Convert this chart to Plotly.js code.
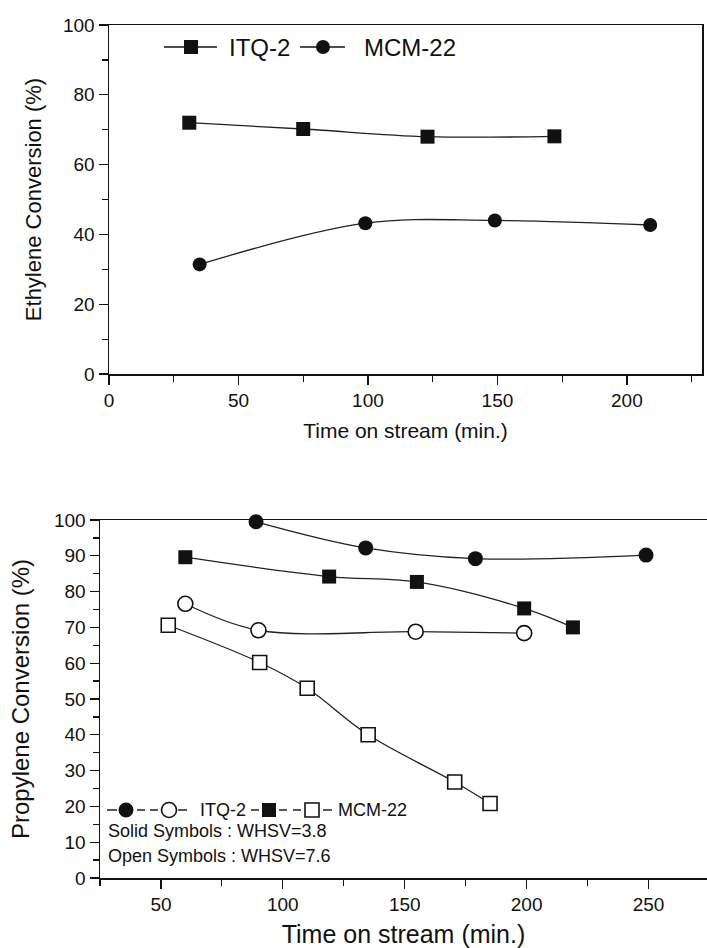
<!DOCTYPE html>
<html>
<head>
<meta charset="utf-8">
<script src="https://cdn.plot.ly/plotly-3.0.1.min.js"></script>
<style>
  html, body { margin: 0; padding: 0; background: #fff; }
  #chart { width: 707px; height: 948px; }
</style>
</head>
<body>
<div id="chart"></div>
<script>
// Ethylene conversion vs time on stream
const ethTimeITQ2 = [31, 75, 123, 172];
const ethConvITQ2 = [72, 70.2, 68, 68.1];
const ethTimeMCM22 = [35, 99, 149, 209];
const ethConvMCM22 = [31.4, 43.2, 44, 42.7];

// Propylene conversion vs time on stream (two WHSV values)
const propTimeITQ2Solid = [89, 134, 179, 249];
const propConvITQ2Solid = [99.5, 92.2, 89.2, 90.2];
const propTimeITQ2Open = [60, 90, 154.5, 199];
const propConvITQ2Open = [76.6, 69.2, 68.8, 68.4];
const propTimeMCM22Solid = [60, 119, 155, 199, 219];
const propConvMCM22Solid = [89.6, 84.2, 82.7, 75.3, 70];
const propTimeMCM22Open = [53, 90.5, 110, 135, 170.5, 185];
const propConvMCM22Open = [70.6, 60.2, 53, 40, 26.8, 20.8];

// Axis tick settings
const ethXTicks = [0, 50, 100, 150, 200];
const ethYTicks = [0, 20, 40, 60, 80, 100];
const propXTicks = [50, 100, 150, 200, 250];
const propYTicks = [0, 10, 20, 30, 40, 50, 60, 70, 80, 90, 100];

const W = 707, H = 948;
const FONT = 'Liberation Sans, Arial, Helvetica, sans-serif';
const INK = '#111111';
const LINE = '#222222';

const px = v => v / W;          // pixel -> paper x
const py = v => 1 - v / H;      // pixel -> paper y

function series(x, y, symbol, filled, size, xa, ya) {
  return {
    x: x, y: y, xaxis: xa, yaxis: ya,
    type: 'scatter', mode: 'lines+markers',
    line: { shape: 'spline', smoothing: 1, color: LINE, width: 1.3 },
    marker: {
      symbol: symbol, size: size,
      color: filled ? INK : '#ffffff',
      line: { color: INK, width: filled ? 0 : 1.6 }
    },
    showlegend: false, hoverinfo: 'x+y', cliponaxis: false
  };
}

const data = [
  series(ethTimeITQ2, ethConvITQ2, 'square', true, 14, 'x', 'y'),
  series(ethTimeMCM22, ethConvMCM22, 'circle', true, 14, 'x', 'y'),
  series(propTimeITQ2Solid, propConvITQ2Solid, 'circle', true, 15, 'x2', 'y2'),
  series(propTimeMCM22Solid, propConvMCM22Solid, 'square', true, 14, 'x2', 'y2'),
  series(propTimeITQ2Open, propConvITQ2Open, 'circle', false, 15, 'x2', 'y2'),
  series(propTimeMCM22Open, propConvMCM22Open, 'square', false, 14, 'x2', 'y2')
];

function axisBase(extra) {
  return Object.assign({
    showgrid: false, zeroline: false,
    showline: true, linecolor: INK, linewidth: 1.5,
    ticks: 'outside', tickcolor: INK, tickwidth: 1.3, ticklen: 9,
    tickfont: { family: FONT, size: 19, color: INK },
    automargin: false, fixedrange: true
  }, extra);
}

// Legend keys (lines and symbols in pixel units, anchored on paper)
const shapes = [];
function seg(x0, x1, y, dash) {
  shapes.push({ type: 'line', xref: 'paper', yref: 'paper',
    x0: px(x0), x1: px(x1), y0: py(y), y1: py(y),
    line: { color: INK, width: 1.4, dash: dash || 'solid' } });
}
function sym(type, cx, cy, size, filled) {
  const h = size / 2;
  shapes.push({ type: type, xref: 'paper', yref: 'paper',
    xsizemode: 'pixel', ysizemode: 'pixel',
    xanchor: px(cx), yanchor: py(cy),
    x0: -h, x1: h, y0: -h, y1: h,
    fillcolor: filled ? INK : '#ffffff',
    line: { color: INK, width: filled ? 0 : 1.6 } });
}

// Upper panel key: —■— ITQ-2  —●— MCM-22
seg(164, 217, 47); sym('rect', 191, 47, 14, true);
seg(300, 345, 47); sym('circle', 323, 47, 14, true);

// Lower panel key: -●- -○- ITQ-2  -■- -□- MCM-22
const ky = 810;
seg(107, 117, ky); seg(137, 145, ky); seg(150, 158, ky); seg(178, 187, ky);
sym('circle', 126, ky, 15, true); sym('circle', 169, ky, 15, false);
seg(251, 259, ky); seg(279, 287, ky); seg(293, 301, ky); seg(323, 332, ky);
sym('rect', 269, ky, 14, true); sym('rect', 312, ky, 14, false);

function label(text, x, y, size) {
  return { text: text, xref: 'paper', yref: 'paper', x: px(x), y: py(y),
    xanchor: 'left', yanchor: 'middle', showarrow: false,
    font: { family: FONT, size: size, color: INK } };
}

const annotations = [
  label('ITQ-2', 227, 47, 24),
  label('MCM-22', 362, 47, 24),
  label('ITQ-2', 198, ky, 18),
  label('MCM-22', 336, ky, 18),
  label('Solid Symbols : WHSV=3.8', 106, 831, 18),
  label('Open Symbols : WHSV=7.6', 106, 856, 18)
];

const layout = {
  width: W, height: H,
  margin: { l: 0, r: 0, t: 0, b: 0, pad: 0 },
  paper_bgcolor: '#ffffff', plot_bgcolor: '#ffffff',
  showlegend: false,
  xaxis: axisBase({
    domain: [px(109), px(702)], anchor: 'y',
    range: [0, 229], tickvals: ethXTicks, mirror: true,
    minor: { dtick: 25, tick0: 0, ticks: 'outside', ticklen: 6, tickcolor: INK, tickwidth: 1.2 },
    title: { text: 'Time on stream (min.)', standoff: 13,
      font: { family: FONT, size: 21, color: INK } }
  }),
  yaxis: axisBase({
    domain: [py(374), py(25)], anchor: 'x',
    range: [0, 100], tickvals: ethYTicks, mirror: true,
    minor: { dtick: 10, tick0: 0, ticks: 'outside', ticklen: 6, tickcolor: INK, tickwidth: 1.2 },
    title: { text: 'Ethylene Conversion (%)', standoff: 15,
      font: { family: FONT, size: 22, color: INK } }
  }),
  xaxis2: axisBase({
    domain: [px(100), 1], anchor: 'y2',
    range: [25, 274], tickvals: propXTicks, mirror: true,
    minor: { dtick: 25, tick0: 0, ticks: 'outside', ticklen: 6, tickcolor: INK, tickwidth: 1.2 },
    title: { text: 'Time on stream (min.)', standoff: 21,
      font: { family: FONT, size: 25, color: INK } }
  }),
  yaxis2: axisBase({
    domain: [py(878), py(520)], anchor: 'x2',
    range: [0, 100], tickvals: propYTicks, mirror: false,
    minor: { dtick: 5, tick0: 0, ticks: 'outside', ticklen: 6, tickcolor: INK, tickwidth: 1.2 },
    title: { text: 'Propylene Conversion (%)', standoff: 17,
      font: { family: FONT, size: 24, color: INK } }
  }),
  shapes: shapes,
  annotations: annotations
};

Plotly.newPlot('chart', data, layout, { displayModeBar: false, staticPlot: true });
</script>
</body>
</html>
